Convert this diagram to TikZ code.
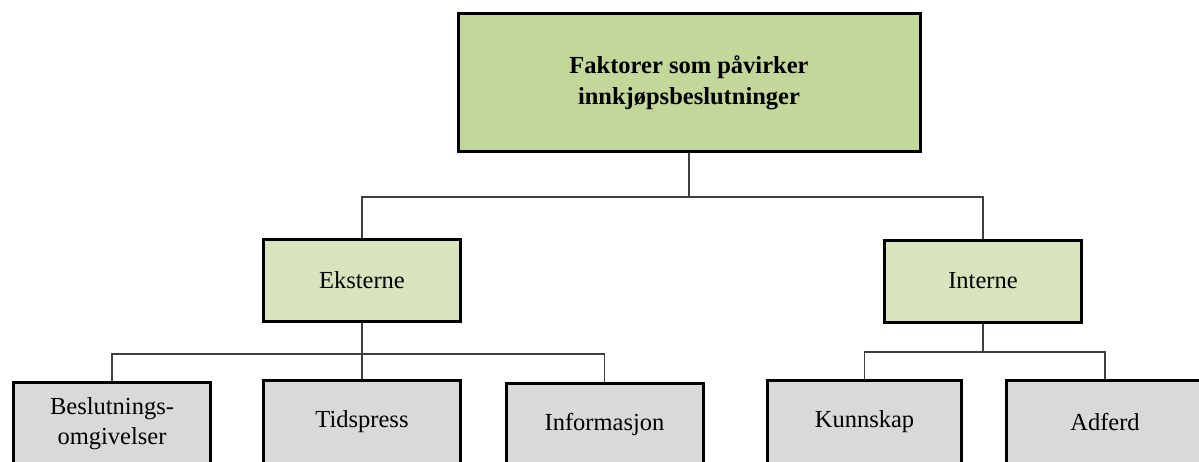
\documentclass[tikz,border=0pt]{standalone}
\usepackage{fontspec}
\setmainfont{Liberation Serif}
\definecolor{topgreen}{HTML}{C4D79B}
\definecolor{midgreen}{HTML}{D7E4BD}
\definecolor{leafgray}{HTML}{D9D9D9}
\definecolor{linkgray}{HTML}{3F3F3F}
\begin{document}
\begin{tikzpicture}[x=1pt,y=-1pt,
  box/.style={draw=black,line width=3pt,inner sep=0pt,align=center,
    font=\fontsize{24.5}{30}\selectfont},
  topbox/.style={box,fill=topgreen,minimum width=462pt,minimum height=138pt,
    font=\fontsize{24.5}{31}\selectfont\bfseries},
  midbox/.style={box,fill=midgreen,minimum width=197pt,minimum height=82pt},
  leafbox/.style={box,fill=leafgray,minimum width=197pt,minimum height=83pt},
  link/.style={draw=linkgray,line width=1.4pt}]
\useasboundingbox (0,0) rectangle (1199,461);
\clip (0,0) rectangle (1199,461);
\fill[white] (0,0) rectangle (1199,461);
\coordinate (c0) at (689,197);
\coordinate (c1) at (362,354);
\coordinate (c2) at (983,352);
\node[topbox] (top) at (689,82.5) {Faktorer som påvirker\\innkjøpsbeslutninger};
\node[midbox] (eks) at (362,280.5) {Eksterne};
\node[midbox] (int) at (983,281) {Interne};
\node[leafbox] (bes) at (112,423.5) {Beslutnings-\\omgivelser};
\node[leafbox] (tid) at (362,421.5) {Tidspress};
\node[leafbox] (inf) at (604.5,424.5) {Informasjon};
\node[leafbox,minimum width=194pt] (kun) at (864.5,421.5) {Kunnskap};
\node[leafbox] (adf) at (1105,421.5) {Adferd};
\draw[link] (top.south) -- (c0);
\draw[link] (c0) -| (eks.north);
\draw[link] (c0) -| (int.north);
\draw[link] (eks.south) -- (c1);
\draw[link] (c1) -| (bes.north);
\draw[link] (c1) -- (tid.north);
\draw[link] (c1) -| (inf.north);
\draw[link] (int.south) -- (c2);
\draw[link] (c2) -| (kun.north);
\draw[link] (c2) -| (adf.north);
\end{tikzpicture}
\end{document}
